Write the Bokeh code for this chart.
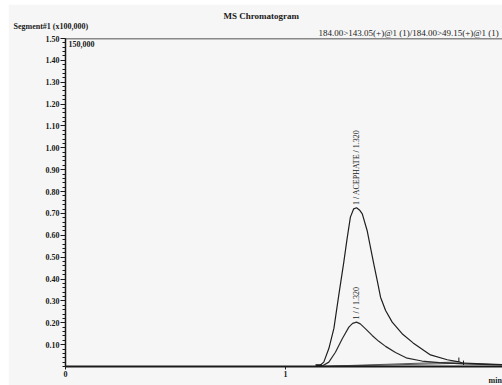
import math
from bokeh.plotting import figure
from bokeh.models import FixedTicker, Label, Span, NumeralTickFormatter, Range1d, Title
from bokeh.embed import file_html
from bokeh.resources import INLINE

# ---- data (time in min, intensity x100,000) ----
big_t = [0.0, 1.151, 1.174, 1.197, 1.220, 1.242, 1.265, 1.280, 1.295, 1.310, 1.323, 1.336,
         1.349, 1.371, 1.386, 1.401, 1.417, 1.432, 1.455, 1.485, 1.530, 1.580, 1.659, 1.735,
         1.788, 1.809, 1.986]
big_v = [0.0, 0.0, 0.020, 0.082, 0.174, 0.325, 0.477, 0.585, 0.683, 0.721, 0.726, 0.716,
         0.698, 0.622, 0.546, 0.470, 0.393, 0.317, 0.256, 0.203, 0.150, 0.108, 0.053, 0.031,
         0.021, 0.015, 0.009]

small_t = [0.0, 1.151, 1.167, 1.197, 1.227, 1.258, 1.288, 1.305, 1.323, 1.340, 1.364, 1.394,
           1.424, 1.455, 1.500, 1.553, 1.620, 1.700, 1.810, 1.986]
small_v = [0.0, 0.0, 0.002, 0.020, 0.065, 0.127, 0.180, 0.197, 0.203, 0.195, 0.172, 0.142,
           0.115, 0.092, 0.064, 0.038, 0.025, 0.018, 0.012, 0.007]

peak_start_t = [1.151]
peak_start_v = [0.0]
big_end_t = [1.788]
big_end_v = [0.021]
small_end_t = [1.809]
small_end_v = [0.015]

peak_rt = [1.323, 1.323]
peak_label_v = [0.738, 0.215]
peak_labels = ["1 / ACEPHATE / 1.320", "1 /  / 1.320"]

y_ticks = [round(0.1 * i, 2) for i in range(1, 16)]
y_minor = [round(0.02 * i, 2) for i in range(0, 76)]
x_ticks = [0, 1]

BG = "#f6f6f6"
INK = "#1a1a1a"
SERIF = "Liberation Serif"

p = figure(width=494, height=381, output_backend="svg", toolbar_location=None,
           x_range=Range1d(0, 437 / 220.0), y_range=Range1d(0, 1.5),
           min_border_left=57, min_border_right=0, min_border_top=34, min_border_bottom=19)
p.margin = (4, 0, 0, 8)
p.background_fill_color = BG
p.border_fill_color = BG
p.outline_line_color = None
p.grid.visible = False

# axes
ya = p.yaxis[0]
ya.ticker = FixedTicker(ticks=y_ticks, minor_ticks=y_minor)
ya.formatter = NumeralTickFormatter(format="0.00")
ya.axis_line_color = INK
ya.axis_line_width = 1.5
ya.major_tick_line_color = INK
ya.minor_tick_line_color = INK
ya.major_tick_out = 5
ya.major_tick_in = 0
ya.minor_tick_out = 3
ya.minor_tick_in = 0
ya.major_label_standoff = 1
ya.major_label_text_font = SERIF
ya.major_label_text_font_style = "bold"
ya.major_label_text_font_size = "8px"
ya.major_label_text_color = INK

xa = p.xaxis[0]
xa.ticker = FixedTicker(ticks=x_ticks, minor_ticks=[])
xa.axis_line_color = INK
xa.axis_line_width = 2
xa.major_tick_line_color = INK
xa.major_tick_out = 3
xa.major_tick_in = 0
xa.minor_tick_line_color = None
xa.major_label_standoff = 1
xa.major_label_text_font = SERIF
xa.major_label_text_font_style = "bold"
xa.major_label_text_font_size = "8px"
xa.major_label_text_color = INK

# top frame line
p.add_layout(Span(location=1.5, dimension="width", line_color=INK, line_width=1.5))

# integration baselines
p.segment(x0=[peak_start_t[0], peak_start_t[0]], y0=[peak_start_v[0], peak_start_v[0]],
          x1=[big_end_t[0], small_end_t[0]], y1=[big_end_v[0], small_end_v[0]],
          line_color="#555555", line_width=1)

# chromatogram traces
p.line(small_t, small_v, line_color="#2a2a2a", line_width=1.2)
p.line(big_t, big_v, line_color="#1f1f1f", line_width=1.2)

# peak start / end markers
p.scatter(peak_start_t, peak_start_v, marker="inverted_triangle", size=6,
          fill_color=INK, line_color=INK)
p.segment(x0=big_end_t, y0=big_end_v, x1=big_end_t, y1=[big_end_v[0] + 0.02],
          line_color=INK, line_width=1)
p.segment(x0=small_end_t, y0=[small_end_v[0] - 0.008], x1=small_end_t, y1=[small_end_v[0] + 0.012],
          line_color=INK, line_width=1)

# rotated peak labels
for x, y, t in zip(peak_rt, peak_label_v, peak_labels):
    p.add_layout(Label(x=x, y=y, text=t, angle=math.pi / 2, text_align="left",
                       text_baseline="middle", text_font=SERIF, text_font_size="8px",
                       text_color=INK))

p.add_layout(Label(x=0.0136, y=1.477, text="150,000", text_align="left", text_baseline="middle",
                   text_font=SERIF, text_font_style="bold", text_font_size="8px", text_color=INK))

# header texts as stacked titles (first added = nearest the frame)
p.add_layout(Title(text="184.00>143.05(+)@1 (1)/184.00>49.15(+)@1 (1)", align="left", offset=253,
                   standoff=2, text_font=SERIF, text_font_style="normal", text_font_size="9px",
                   text_color=INK), "above")
p.add_layout(Title(text="Segment#1 (x100,000)", align="left", offset=-52, standoff=-12,
                   text_font=SERIF, text_font_style="bold", text_font_size="8px",
                   text_color=INK), "above")
p.add_layout(Title(text="MS Chromatogram", align="left", offset=158, standoff=8,
                   text_font=SERIF, text_font_style="bold", text_font_size="9px",
                   text_color=INK), "above")
p.add_layout(Title(text="min", align="left", offset=423, standoff=-11,
                   text_font=SERIF, text_font_style="bold", text_font_size="8px",
                   text_color=INK), "below")

open("out.html", "w").write(file_html(p, INLINE))
